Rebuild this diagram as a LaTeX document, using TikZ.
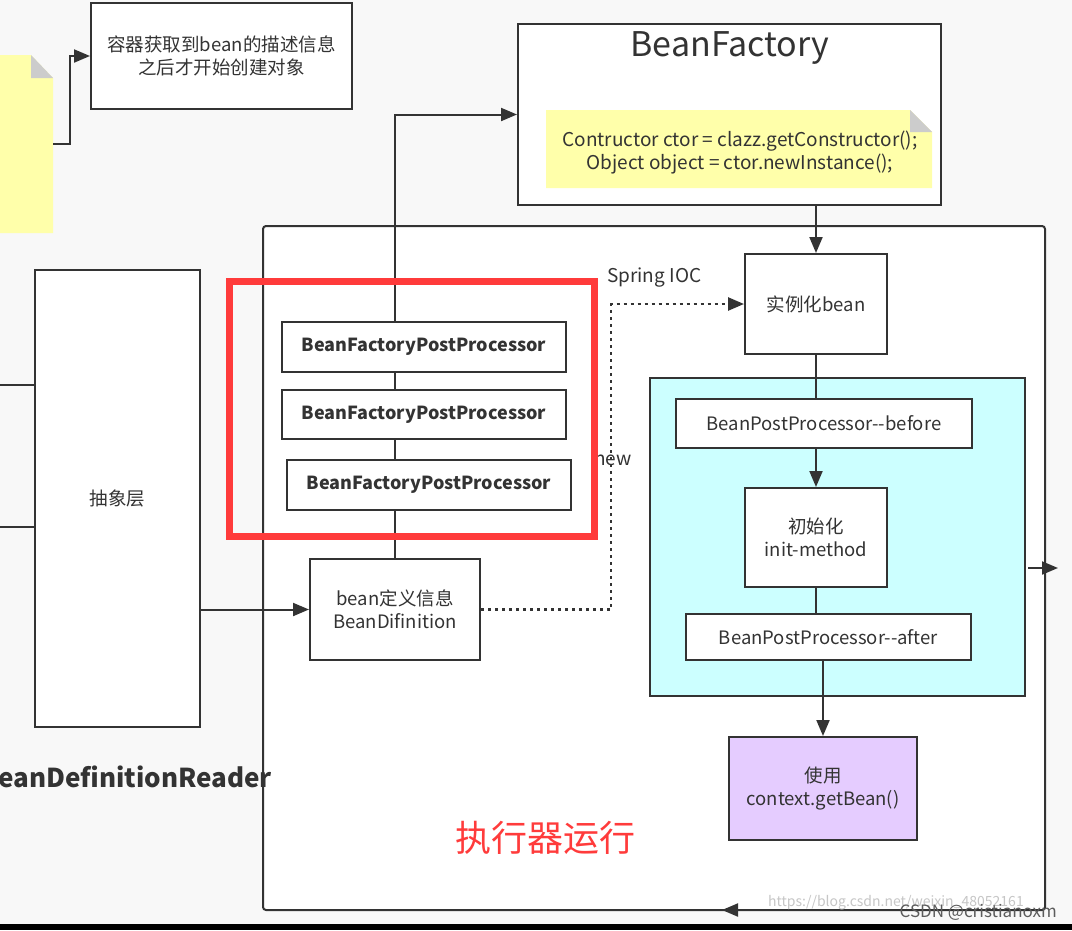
\documentclass[tikz,border=0pt]{standalone}
\usepackage{fontspec}
\setmainfont{Noto Sans CJK SC}
\usetikzlibrary{arrows.meta}
\definecolor{ink}{HTML}{333333}
\definecolor{bgray}{HTML}{F8F8F8}
\definecolor{noteyellow}{HTML}{FFFFAA}
\definecolor{foldgray}{HTML}{CCCCCC}
\definecolor{cyanfill}{HTML}{CCFFFF}
\definecolor{purplefill}{HTML}{E5CCFF}
\definecolor{redline}{HTML}{FF3B3B}
\pgfdeclarelayer{back}
\pgfdeclarelayer{mid}
\pgfdeclarelayer{front}
\pgfsetlayers{back,mid,main,front}
\tikzset{
  box/.style={draw=ink,line width=2pt,fill=white,text=ink,align=center,inner sep=0pt,
    font=\fontsize{18.5}{23}\selectfont},
  boldbox/.style={box,font=\fontsize{18}{22}\selectfont\bfseries},
  conn/.style={draw=ink,line width=2pt},
  arr/.style={conn,-{Triangle[length=16pt,width=13pt]}},
  dotconn/.style={draw=ink,line width=2.5pt,dash pattern=on 3pt off 4pt,-{Triangle[length=16pt,width=13pt]}},
  lbl/.style={text=ink,inner sep=0pt,font=\fontsize{19}{23}\selectfont}
}
\begin{document}
\begin{tikzpicture}[x=1pt,y=-1pt]
\useasboundingbox (0,0) rectangle (1072,930);
\begin{pgfonlayer}{back}
  \fill[bgray] (0,0) rectangle (1072,930);
  \fill[black] (0,924) rectangle (1072,930);
  % container
  \draw[ink,line width=2pt,fill=white,rounded corners=3pt] (263,226) rectangle (1045,910);
  % cyan group
  \draw[ink,line width=2pt,fill=cyanfill] (650,378) rectangle (1025,696);
  % left yellow note
  \fill[noteyellow] (-5,55) -- (31,55) -- (53,78) -- (53,233) -- (-5,233) -- cycle;
  \fill[foldgray] (31,55) -- (53,78) -- (31,78) -- cycle;
\end{pgfonlayer}

% nodes
\node[box,minimum width=261pt,minimum height=106pt] (desc) at (221.5,56)
  {容器获取到bean的描述信息\\之后才开始创建对象};
\node[box,minimum width=423pt,minimum height=181pt] (bf) at (729.5,114.5) {};
\node[lbl,font=\fontsize{34}{38}\selectfont] (bftitle) at (730,48) {BeanFactory};
\fill[noteyellow] (546,110) -- (910,110) -- (932,132) -- (932,188) -- (546,188) -- cycle;
\fill[foldgray] (910,110) -- (932,132) -- (910,132) -- cycle;
\node[lbl,align=center,font=\fontsize{19}{23}\selectfont] (code) at (740,153)
  {Contructor ctor = clazz.getConstructor();\\Object object = ctor.newInstance();};

\node[box,minimum width=165pt,minimum height=457pt] (abs) at (117.5,498.5) {抽象层};
\node[box,minimum width=170pt,minimum height=101pt] (bd) at (395,609.5) {bean定义信息\\BeanDifinition};
\node[boldbox,minimum width=284pt,minimum height=50pt] (p1) at (424,347) {BeanFactoryPostProcessor};
\node[boldbox,minimum width=284pt,minimum height=49pt] (p2) at (424,414.5) {BeanFactoryPostProcessor};
\node[boldbox,minimum width=284pt,minimum height=50pt] (p3) at (429,485) {BeanFactoryPostProcessor};
\node[box,minimum width=142pt,minimum height=100pt] (inst) at (816,304) {实例化bean};
\node[box,minimum width=296pt,minimum height=49pt] (before) at (824,423.5) {BeanPostProcessor-{}-before};
\node[box,minimum width=142pt,minimum height=99pt] (init) at (816,537.5) {初始化\\init-method};
\node[box,minimum width=285pt,minimum height=46pt] (after) at (828.5,637) {BeanPostProcessor-{}-after};
\node[box,fill=purplefill,minimum width=188pt,minimum height=103pt] (use) at (823,788.5) {使用\\context.getBean()};

\node[lbl,anchor=west] (ioc) at (607,278) {Spring IOC};
\node[lbl,anchor=west] (newl) at (594,460) {new};
\node[text=ink,inner sep=0pt,anchor=east,font=\fontsize{26}{30}\selectfont\bfseries] (bdr) at (272,777) {BeanDefinitionReader};
\node[text=redline,inner sep=0pt,font=\fontsize{36}{40}\selectfont] (exec) at (545,838) {执行器运行};

% free coordinates
\coordinate (ln) at (53,144);
\coordinate (l1) at (0,385);
\coordinate (l2) at (0,527);
\coordinate (rs) at (1028,568);
\coordinate (re) at (1058,568);
\coordinate (bs) at (770,910);
\coordinate (bt) at (722,910);

\begin{pgfonlayer}{mid}
  \draw[arr] (ln) -- ++(17,0) |- (desc.west);
  \draw[arr] (bd.north) -- (bd.north |- bf.west) -- (bf.west);
  \draw[arr] (inst.north |- bf.south) -- (inst.north);
  \draw[dotconn] (bd.east) -- ++(130,0) |- (inst.west);
  \draw[arr] (abs.east |- bd.west) -- (bd.west);
  \draw[conn] (l1) -- (l1 -| abs.west);
  \draw[conn] (l2) -- (l2 -| abs.west);
  \draw[conn] (inst.south) -- (inst.south |- before.north);
  \draw[arr] (init.north |- before.south) -- (init.north);
  \draw[conn] (init.south) -- (init.south |- after.north);
  \draw[arr] (use.north |- after.south) -- (use.north);
  \draw[arr] (rs) -- (re);
  \draw[arr] (bs) -- (bt);
\end{pgfonlayer}

\begin{pgfonlayer}{front}
  \draw[redline,line width=7pt] (229.5,281.5) rectangle (594.5,536.5);
  \node[text=gray!45,inner sep=0pt,anchor=west,font=\fontsize{14}{16}\selectfont] (wm1) at (768,903) {https://blog.csdn.net/weixin\_48052161};
  \node[text=ink!80,inner sep=0pt,anchor=east,font=\fontsize{17}{19}\selectfont] (wm2) at (1057,912) {CSDN @cristianoxm};
\end{pgfonlayer}
\end{tikzpicture}
\end{document}
